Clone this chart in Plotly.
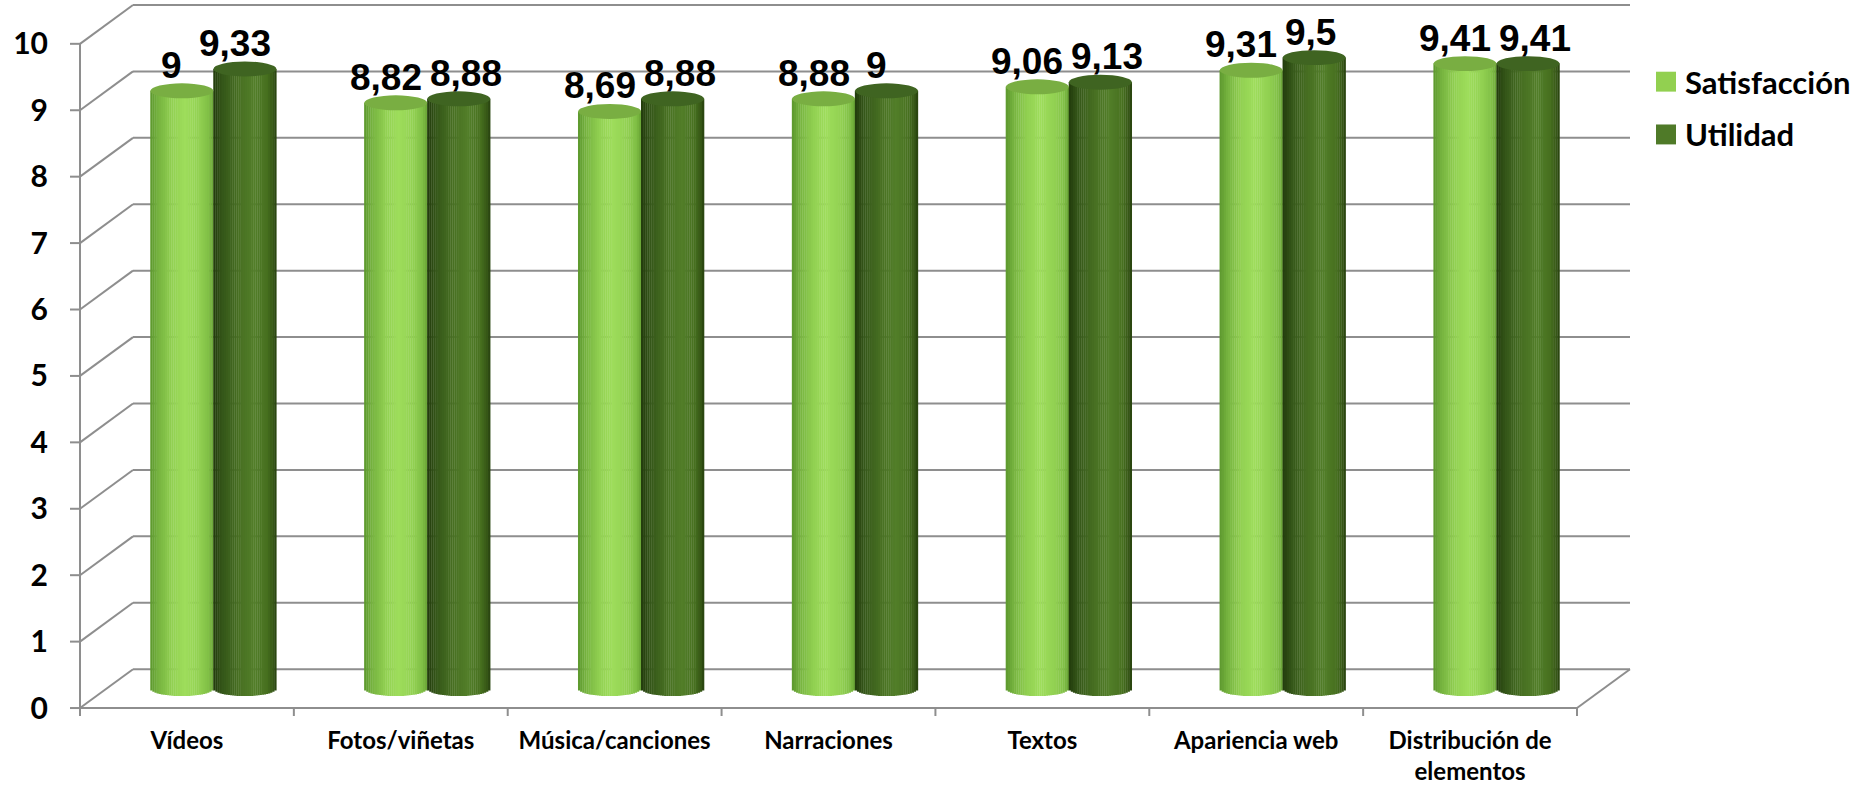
import numpy as np
import plotly.graph_objects as go

# ---------------------------------------------------------------- data
categories = ["Vídeos", "Fotos/viñetas", "Música/canciones", "Narraciones",
              "Textos", "Apariencia web", "Distribución de<br>elementos"]
satisfaccion = [9, 8.82, 8.69, 8.88, 9.06, 9.31, 9.41]
utilidad = [9.33, 8.88, 8.88, 9, 9.13, 9.5, 9.41]
series_names = ["Satisfacción", "Utilidad"]
y_ticks = list(range(0, 11))

# ---------------------------------------------------------------- geometry (pixels)
W, H = 1866, 787
FRONT_X0, FRONT_X1 = 80, 1577      # front floor edge, left / right
FRONT_Y0, FRONT_Y10 = 711, 44      # value 0 / value 10 on the front plane
DEPTH_PX_X, DEPTH_PX_Y = 53, 39    # offset of the back wall
PLOT_L, PLOT_R, PLOT_T, PLOT_B = 70, 1633, 2, 720

n_cat = len(categories)
XU = (FRONT_X1 - FRONT_X0) / n_cat           # px per category
YU = (FRONT_Y0 - FRONT_Y10) / 10.0           # px per value unit
DX = DEPTH_PX_X / XU                         # back wall shift in data units
DY = DEPTH_PX_Y / YU
MID_DX, MID_DY = DX / 2, DY / 2              # cylinders stand mid-depth

x_range = [(PLOT_L - FRONT_X0) / XU, (PLOT_R - FRONT_X0) / XU]
y_range = [-(PLOT_B - FRONT_Y0) / YU, (FRONT_Y0 - PLOT_T) / YU]

BAR_W = 63 / XU                   # cylinder diameter
RY = 7.5 / YU                     # half height of the elliptical caps
N_STRIPS = 30

GRID = "#8e8e8e"

# body shading across the cylinder, u = -1 (left) .. 1 (right)
light_stops = [(-1.0, "#5c972c"), (-0.75, "#76b33f"), (-0.3, "#92d152"),
               (0.1, "#9edd5b"), (0.55, "#92d152"), (0.85, "#80bf45"), (1.0, "#68a334")]
dark_stops = [(-1.0, "#223b0c"), (-0.7, "#355719"), (-0.2, "#476f22"),
              (0.3, "#527e29"), (0.7, "#47701f"), (0.9, "#365716"), (1.0, "#253f0d")]
top_colors = ["#79ae42", "#3f6421"]
legend_colors = ["#92d050", "#4f7a28"]


def hex_rgb(h):
    h = h.lstrip("#")
    return np.array([int(h[i:i + 2], 16) for i in (0, 2, 4)], float)


def shade(stops, u):
    us = [s[0] for s in stops]
    cols = [hex_rgb(s[1]) for s in stops]
    for i in range(len(us) - 1):
        if us[i] <= u <= us[i + 1]:
            t = (u - us[i]) / (us[i + 1] - us[i])
            c = cols[i] * (1 - t) + cols[i + 1] * t
            return "rgb(%d,%d,%d)" % tuple(np.round(c))
    return stops[-1][1]


fig = go.Figure()
shapes = []
annotations = []

series = [satisfaccion, utilidad]
stops_list = [light_stops, dark_stops]
centers = np.arange(n_cat) + 0.5 + MID_DX

# ---------------------------------------------------------------- 3D frame
line = dict(color=GRID, width=2)
for k in y_ticks:
    # back wall gridline
    shapes.append(dict(type="line", xref="x", yref="y", x0=DX, x1=n_cat + DX,
                       y0=k + DY, y1=k + DY, line=line, layer="below"))
    # side wall diagonal
    shapes.append(dict(type="line", xref="x", yref="y", x0=0, x1=DX,
                       y0=k, y1=k + DY, line=line, layer="below"))
    # tick mark on the value axis
    shapes.append(dict(type="line", xref="x", yref="y", x0=-10 / XU, x1=0,
                       y0=k, y1=k, line=line, layer="below"))
# front value axis, front floor edge, right floor edge
shapes.append(dict(type="line", xref="x", yref="y", x0=0, x1=0, y0=0, y1=10,
                   line=line, layer="below"))
shapes.append(dict(type="line", xref="x", yref="y", x0=0, x1=n_cat, y0=0, y1=0,
                   line=line, layer="below"))
shapes.append(dict(type="line", xref="x", yref="y", x0=n_cat, x1=n_cat + DX,
                   y0=0, y1=DY, line=line, layer="below"))
for i in range(n_cat + 1):
    shapes.append(dict(type="line", xref="x", yref="y", x0=i, x1=i,
                       y0=0, y1=-8 / YU, line=line, layer="below"))

# ---------------------------------------------------------------- cylinders
for s, vals in enumerate(series):
    cx = centers + (s - 0.5) * BAR_W
    for j in range(N_STRIPS):
        u = -1 + (2 * j + 1) / N_STRIPS
        xs = cx + u * BAR_W / 2
        base = MID_DY - RY * np.sqrt(1 - u * u)
        tops = np.array(vals) + MID_DY
        fig.add_trace(go.Bar(
            x=xs, y=tops - base, base=[base] * n_cat,
            width=BAR_W / N_STRIPS * 1.15,
            marker=dict(color=shade(stops_list[s], u), line=dict(width=0)),
            showlegend=False, hoverinfo="skip"))
    for i, v in enumerate(vals):
        shapes.append(dict(type="circle", xref="x", yref="y",
                           x0=cx[i] - BAR_W / 2, x1=cx[i] + BAR_W / 2,
                           y0=v + MID_DY - RY, y1=v + MID_DY + RY,
                           fillcolor=top_colors[s], line=dict(width=0), layer="above"))

# ---------------------------------------------------------------- value labels
LABEL_FS = 37


def fmt(v):
    return ("%g" % v).replace(".", ",")


def text_w(t):
    return LABEL_FS * sum(0.278 if ch == "," else 0.556 for ch in t)


for i in range(n_cat):
    c_light = (centers[i] - BAR_W / 2) * XU
    c_dark = (centers[i] + BAR_W / 2) * XU
    t_l, t_d = fmt(satisfaccion[i]), fmt(utilidad[i])
    sh_l = -10
    sh_d = -10
    right_l = c_light + sh_l + text_w(t_l) / 2
    left_d = c_dark + sh_d - text_w(t_d) / 2
    if abs(satisfaccion[i] - utilidad[i]) * YU < 26 and left_d < right_l + 8:
        sh_d = right_l + 8 + text_w(t_d) / 2 - c_dark
    for cxp, v, t, shx in ((centers[i] - BAR_W / 2, satisfaccion[i], t_l, sh_l),
                           (centers[i] + BAR_W / 2, utilidad[i], t_d, sh_d)):
        annotations.append(dict(
            x=cxp, y=v + MID_DY, xref="x", yref="y", text=t, showarrow=False,
            xanchor="center", yanchor="bottom", xshift=shx, yshift=3,
            font=dict(family="Liberation Sans, Arial, sans-serif", size=LABEL_FS,
                      color="#000000", weight="bold")))

# ---------------------------------------------------------------- legend
def px2paper(px, py):
    return ((px - PLOT_L) / (PLOT_R - PLOT_L), (PLOT_B - py) / (PLOT_B - PLOT_T))


for k, (name, col) in enumerate(zip(series_names, legend_colors)):
    cy = 82 + k * 53
    x0, y0 = px2paper(1656, cy - 10)
    x1, y1 = px2paper(1676, cy + 10)
    shapes.append(dict(type="rect", xref="paper", yref="paper", x0=x0, x1=x1,
                       y0=y0, y1=y1, fillcolor=col, line=dict(width=0)))
    tx, ty = px2paper(1683, cy)
    annotations.append(dict(
        x=tx, y=ty, xref="paper", yref="paper", text=name, showarrow=False,
        xanchor="left", yanchor="middle",
        font=dict(family="Lato, sans-serif", size=31, color="#000000", weight="bold")))

# ---------------------------------------------------------------- layout
fig.update_layout(
    width=W, height=H,
    margin=dict(l=PLOT_L, r=W - PLOT_R, t=PLOT_T, b=H - PLOT_B),
    paper_bgcolor="white", plot_bgcolor="white",
    barmode="overlay", showlegend=False,
    shapes=shapes, annotations=annotations,
    xaxis=dict(range=x_range, showgrid=False, zeroline=False, showline=False,
               tickmode="array", tickvals=list(np.arange(n_cat) + 0.5),
               ticktext=categories, ticks="", ticklabelstandoff=7,
               tickfont=dict(family="Lato, sans-serif", size=24, color="#000000",
                             weight="bold")),
    yaxis=dict(range=y_range, showgrid=False, zeroline=False, showline=False,
               tickmode="array", tickvals=y_ticks,
               ticktext=[str(t) for t in y_ticks], ticks="", ticklabelstandoff=21,
               tickfont=dict(family="Lato, sans-serif", size=30, color="#000000",
                             weight="bold")),
)

fig.write_html("out.html")
